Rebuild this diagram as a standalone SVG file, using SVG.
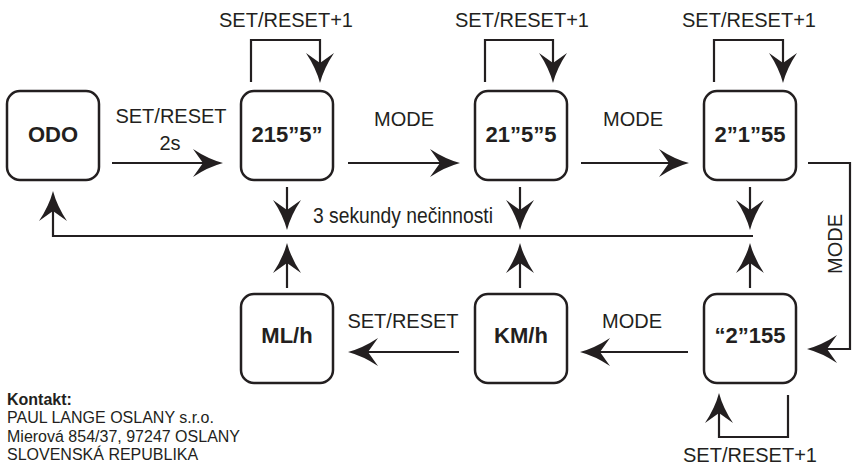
<svg xmlns="http://www.w3.org/2000/svg" xmlns:xlink="http://www.w3.org/1999/xlink" width="852" height="467" viewBox="0 0 852 467">
<style>
.box{fill:#fff;stroke:#231f20;stroke-width:2.5}
.ln{fill:none;stroke:#231f20;stroke-width:2.2}
.nt{font-family:"Liberation Sans",Arial,sans-serif;font-weight:bold;font-size:22px;fill:#231f20;text-anchor:middle}
.lb{font-family:"Liberation Sans",Arial,sans-serif;font-size:20px;fill:#231f20;text-anchor:middle}
.ct{font-family:"Liberation Sans",Arial,sans-serif;font-size:16px;fill:#231f20}
.ah{fill:#231f20}
</style>
<defs>
<path id="ah" class="ah" d="M0,0 Q-15,-4 -30,-14 L-20,0 L-30,14 Q-15,4 0,0 Z"/>
</defs>
<rect width="852" height="467" fill="#fff"/>
<g id="connectors">
<line class="ln" x1="112" y1="163" x2="208" y2="163"/>
<use xlink:href="#ah" transform="translate(223,163)"/>
<line class="ln" x1="348" y1="163" x2="445" y2="163"/>
<use xlink:href="#ah" transform="translate(460,163)"/>
<line class="ln" x1="581" y1="163" x2="674" y2="163"/>
<use xlink:href="#ah" transform="translate(689,163)"/>
<polyline class="ln" points="808,163 850,163 850,349 822,349"/>
<use xlink:href="#ah" transform="translate(807,349) rotate(180)"/>
<line class="ln" x1="688" y1="352" x2="595" y2="352"/>
<use xlink:href="#ah" transform="translate(580,352) rotate(180)"/>
<line class="ln" x1="459" y1="352" x2="363" y2="352"/>
<use xlink:href="#ah" transform="translate(348,352) rotate(180)"/>
<polyline class="ln" points="251,82 251,40 320,40 320,68"/>
<use xlink:href="#ah" transform="translate(320,83) rotate(90)"/>
<polyline class="ln" points="485,82 485,40 553,40 553,68"/>
<use xlink:href="#ah" transform="translate(553,83) rotate(90)"/>
<polyline class="ln" points="714,82 714,40 783,40 783,68"/>
<use xlink:href="#ah" transform="translate(783,83) rotate(90)"/>
<polyline class="ln" points="788,395 788,437 719,437 719,408"/>
<use xlink:href="#ah" transform="translate(719,393) rotate(-90)"/>
<line class="ln" x1="287" y1="187" x2="287" y2="215"/>
<use xlink:href="#ah" transform="translate(287,230) rotate(90)"/>
<line class="ln" x1="520" y1="187" x2="520" y2="215"/>
<use xlink:href="#ah" transform="translate(520,230) rotate(90)"/>
<line class="ln" x1="750" y1="187" x2="750" y2="215"/>
<use xlink:href="#ah" transform="translate(750,230) rotate(90)"/>
<polyline class="ln" points="753,236 53,236 53,206"/>
<use xlink:href="#ah" transform="translate(53,191) rotate(-90)"/>
<line class="ln" x1="287" y1="288" x2="287" y2="258"/>
<use xlink:href="#ah" transform="translate(287,243) rotate(-90)"/>
<line class="ln" x1="520" y1="288" x2="520" y2="258"/>
<use xlink:href="#ah" transform="translate(520,243) rotate(-90)"/>
<line class="ln" x1="750" y1="288" x2="750" y2="258"/>
<use xlink:href="#ah" transform="translate(750,243) rotate(-90)"/>
<text class="lb" x="171" y="123">SET/RESET</text>
<text class="lb" x="170" y="150">2s</text>
<text class="lb" x="286" y="27">SET/RESET+1</text>
<text class="lb" x="522" y="27">SET/RESET+1</text>
<text class="lb" x="749" y="27">SET/RESET+1</text>
<text class="lb" x="404" y="126">MODE</text>
<text class="lb" x="633" y="126">MODE</text>
<text class="lb" transform="translate(842,244) rotate(-90)">MODE</text>
<text class="lb" x="403" y="328">SET/RESET</text>
<text class="lb" x="632" y="328">MODE</text>
<text class="lb" x="750" y="462">SET/RESET+1</text>
<text class="lb" x="313" y="223" style="text-anchor:start;font-size:22px" textLength="180" lengthAdjust="spacingAndGlyphs">3 sekundy nečinnosti</text>
</g>
<g id="odo"><rect class="box" x="7" y="91" width="92" height="89" rx="13"/><text class="nt" x="53" y="142">ODO</text></g>
<g id="n215"><rect class="box" x="241" y="91" width="92" height="89" rx="13"/><text class="nt" x="287" y="142">215”5”</text></g>
<g id="n2155"><rect class="box" x="475" y="91" width="92" height="89" rx="13"/><text class="nt" x="521" y="142">21”5”5</text></g>
<g id="n2155b"><rect class="box" x="704" y="91" width="92" height="89" rx="13"/><text class="nt" x="750" y="142">2”1”55</text></g>
<g id="n2155c"><rect class="box" x="704" y="294" width="92" height="89" rx="13"/><text class="nt" x="750" y="343">“2”155</text></g>
<g id="kmh"><rect class="box" x="475" y="294" width="92" height="89" rx="13"/><text class="nt" x="521" y="343">KM/h</text></g>
<g id="mlh"><rect class="box" x="241" y="294" width="92" height="89" rx="13"/><text class="nt" x="287" y="343">ML/h</text></g>
<g id="contact">
<text class="ct" x="7" y="405" font-weight="bold">Kontakt:</text>
<text class="ct" x="7" y="423">PAUL LANGE OSLANY s.r.o.</text>
<text class="ct" x="7" y="442">Mierová 854/37, 97247 OSLANY</text>
<text class="ct" x="7" y="460">SLOVENSKÁ REPUBLIKA</text>
</g>
</svg>
